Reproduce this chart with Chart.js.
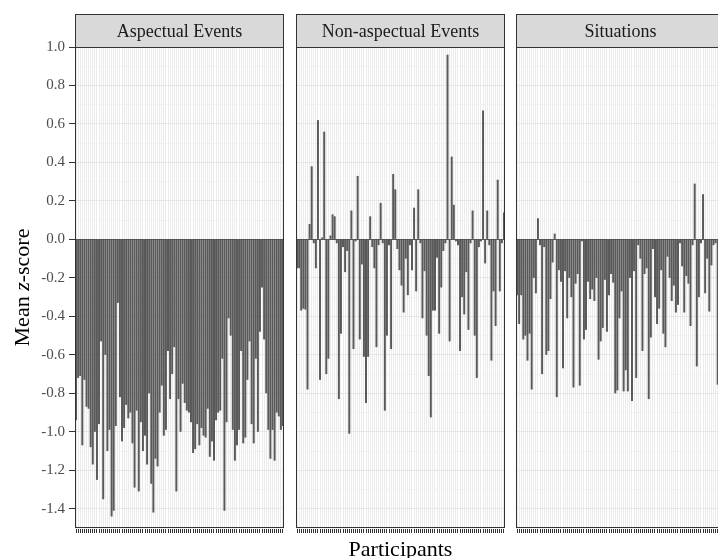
<!DOCTYPE html>
<html>
<head>
<meta charset="utf-8">
<script src="https://cdn.jsdelivr.net/npm/chart.js@4.4.1/dist/chart.umd.min.js"></script>
<style>
  html, body { margin: 0; padding: 0; background: #fff; overflow: hidden; }
  #wrap { position: relative; width: 718px; height: 558px; overflow: hidden; }
  canvas { position: absolute; top: 0; }
</style>
</head>
<body>
<div id="wrap">
  <canvas id="c1" width="290" height="558" style="left:0px"></canvas>
  <canvas id="c2" width="221" height="558" style="left:290px"></canvas>
  <canvas id="c3" width="220" height="558" style="left:511px"></canvas>
</div>
<script>
// facet names
var facets = ['Aspectual Events', 'Non-aspectual Events', 'Situations'];

// mean z-score per participant, one array per facet (same participant order)
var aspectual = [
  -0.94, -0.72, -0.71, -1.07, -0.73, -0.87, -0.88, -1.08, -1.17, -1.00,
  -1.25, -0.96, -0.53, -1.35, -0.60, -1.10, -0.99, -1.44, -1.41, -0.97,
  -0.33, -0.82, -1.05, -0.98, -0.86, -0.93, -0.90, -1.06, -1.29, -0.89,
  -1.31, -0.95, -1.10, -1.02, -1.17, -0.80, -1.27, -1.42, -1.14, -1.18,
  -0.90, -0.76, -1.02, -0.99, -0.58, -0.83, -0.70, -0.56, -1.31, -0.83,
  -1.00, -0.75, -0.85, -0.89, -0.90, -0.95, -1.11, -1.09, -0.96, -1.07,
  -0.98, -1.02, -1.03, -0.88, -1.13, -1.05, -1.15, -0.94, -0.90, -0.89,
  -0.62, -1.41, -0.95, -0.41, -0.50, -0.99, -1.15, -1.07, -0.99, -0.58,
  -1.06, -1.03, -0.73, -0.53, -0.96, -1.06, -0.62, -1.00, -0.48, -0.25,
  -0.52, -0.80, -0.99, -1.14, -0.99, -1.15, -0.90, -0.92, -0.99, -0.97
];
var nonAspectual = [
  -0.15, -0.15, -0.37, -0.36, -0.365, -0.78, 0.08, 0.38, -0.02, -0.15,
  0.62, -0.73, 0.01, 0.56, -0.70, -0.62, 0.02, 0.13, 0.12, -0.02,
  -0.83, -0.49, -0.04, -0.17, -0.06, -1.01, 0.15, -0.57, -0.01, 0.33,
  -0.52, -0.13, -0.61, -0.85, -0.61, 0.12, -0.04, -0.15, -0.56, -0.03,
  0.19, -0.02, -0.89, -0.50, -0.03, -0.57, 0.34, 0.26, -0.05, -0.16,
  -0.24, -0.38, -0.10, -0.29, -0.03, -0.16, 0.165, -0.27, 0.26, -0.02,
  -0.41, -0.165, -0.50, -0.71, -0.925, -0.37, -0.37, -0.095, -0.49, -0.25,
  -0.06, -0.02, 0.96, -0.53, 0.43, 0.18, -0.01, -0.03, -0.58, -0.30,
  -0.39, -0.17, -0.47, -0.02, 0.15, -0.50, -0.72, -0.04, -0.01, 0.67,
  -0.125, 0.15, -0.03, -0.63, -0.27, -0.45, 0.31, -0.27, -0.02, 0.14
];
var situations = [
  -0.29, -0.44, -0.29, -0.52, -0.50, -0.63, -0.49, -0.78, -0.20, -0.28,
  0.11, -0.03, -0.70, -0.04, -0.60, -0.58, -0.31, -0.12, 0.03, -0.82,
  -0.16, -0.22, -0.67, -0.165, -0.41, -0.20, -0.30, -0.77, -0.23, -0.18,
  -0.76, -0.01, -0.52, -0.47, -0.22, -0.31, -0.26, -0.32, -0.20, -0.625,
  -0.53, -0.46, -0.21, -0.48, -0.29, -0.18, -0.225, -0.80, -0.785, -0.41,
  -0.27, -0.79, -0.68, -0.79, -0.20, -0.84, -0.165, -0.72, -0.03, -0.10,
  -0.58, -0.18, -0.15, -0.83, -0.51, -0.05, -0.30, -0.44, -0.36, -0.16,
  -0.49, -0.56, -0.09, -0.20, -0.32, -0.24, -0.38, -0.34, -0.02, -0.14,
  -0.38, -0.19, -0.23, -0.45, -0.03, 0.29, -0.66, -0.30, -0.02, 0.235,
  -0.28, -0.10, -0.375, -0.135, -0.03, -0.02, -0.755, 0.065, -0.30, -0.50
];

// participant ids (x categories)
var participants = aspectual.map(function (v, i) { return 'P' + (i + 1); });

// y axis range: gridlines every 0.1, labels every 0.2
var yMin = -1.5, yMax = 1.0, yStep = 0.1;

var SERIF = '"Liberation Serif", "DejaVu Serif", serif';

function isMajor(v) {
  return Math.abs(Math.round(v * 5) - v * 5) < 1e-6;
}
function fmt(v) {
  if (Math.abs(v) < 1e-9) v = 0;
  return v.toFixed(1);
}

// strip labels, panel border and axis titles (ggplot facet look)
var facetPlugin = {
  id: 'facet',
  afterDraw: function (chart, args, o) {
    var c = chart.ctx, a = chart.chartArea;
    var l = Math.round(a.left), r = Math.round(a.right);
    var t = Math.round(a.top), b = Math.round(a.bottom);
    c.save();
    // strip
    c.fillStyle = '#d9d9d9';
    c.fillRect(l, 14, r - l, t - 14);
    c.strokeStyle = '#333333';
    c.lineWidth = 1;
    c.strokeRect(l + 0.5, 14.5, r - l - 1, t - 14);
    c.fillStyle = '#1a1a1a';
    c.font = '18px ' + SERIF;
    c.textAlign = 'center';
    c.textBaseline = 'alphabetic';
    c.fillText(o.label, (l + r) / 2, 37);
    // panel border
    c.strokeRect(l + 0.5, t + 0.5, r - l - 1, b - t - 1);

    if (o.yTitle) {
      c.save();
      c.translate(29, (a.top + a.bottom) / 2);
      c.rotate(-Math.PI / 2);
      c.fillStyle = '#000';
      c.textAlign = 'left';
      var parts = [['Mean ', ''], ['z', 'italic '], ['-score', '']];
      var total = 0;
      parts.forEach(function (p) {
        c.font = p[1] + '22px ' + SERIF;
        p.push(c.measureText(p[0]).width);
        total += p[2];
      });
      var x = -total / 2;
      parts.forEach(function (p) {
        c.font = p[1] + '22px ' + SERIF;
        c.fillText(p[0], x, 0);
        x += p[2];
      });
      c.restore();
    }
    if (o.xTitle) {
      c.fillStyle = '#000';
      c.font = '22px ' + SERIF;
      c.textAlign = 'center';
      c.fillText(o.xTitle, (a.left + a.right) / 2, 556);
    }
    c.restore();
  }
};

function makePanel(id, label, values, o) {
  return new Chart(document.getElementById(id), {
    type: 'bar',
    data: {
      labels: participants,
      datasets: [{
        data: values,
        backgroundColor: '#595959',
        barPercentage: 0.95,
        categoryPercentage: 1.0
      }]
    },
    options: {
      responsive: false,
      animation: false,
      devicePixelRatio: 1,
      layout: { padding: { top: 47, left: o.padLeft, right: o.padRight, bottom: 0 } },
      plugins: {
        legend: { display: false },
        tooltip: { enabled: false },
        facet: { label: label, yTitle: o.showY, xTitle: o.xTitle }
      },
      scales: {
        x: {
          border: { display: false },
          grid: {
            offset: false,
            color: '#ebebeb',
            lineWidth: 1,
            drawTicks: true,
            tickLength: 5,
            tickColor: '#333333'
          },
          ticks: { display: false },
          afterFit: function (s) { s.height = 30; }
        },
        y: {
          min: yMin,
          max: yMax,
          border: { display: false },
          afterFit: function (s) { s.width = o.showY ? 75 : 0; },
          grid: {
            color: function (ctx) {
              if (!ctx.tick) return '#ebebeb';
              var v = ctx.tick.value;
              if (Math.abs(v) < 1e-9) return '#555555';
              return isMajor(v) ? '#e6e6e6' : '#f1f1f1';
            },
            lineWidth: 1,
            drawTicks: o.showY,
            tickLength: 6,
            tickColor: function (ctx) {
              return ctx.tick && isMajor(ctx.tick.value) ? '#333333' : 'rgba(0,0,0,0)';
            }
          },
          ticks: {
            display: o.showY,
            stepSize: yStep,
            autoSkip: false,
            padding: 4,
            color: '#4d4d4d',
            font: { family: SERIF, size: 15 },
            callback: function (v) { return isMajor(v) ? fmt(v) : ''; }
          }
        }
      }
    },
    plugins: [facetPlugin]
  });
}

makePanel('c1', facets[0], aspectual, { showY: true, padLeft: 0, padRight: 6 });
makePanel('c2', facets[1], nonAspectual, { showY: false, padLeft: 6, padRight: 6, xTitle: 'Participants' });
makePanel('c3', facets[2], situations, { showY: false, padLeft: 5, padRight: 6 });
</script>
</body>
</html>
